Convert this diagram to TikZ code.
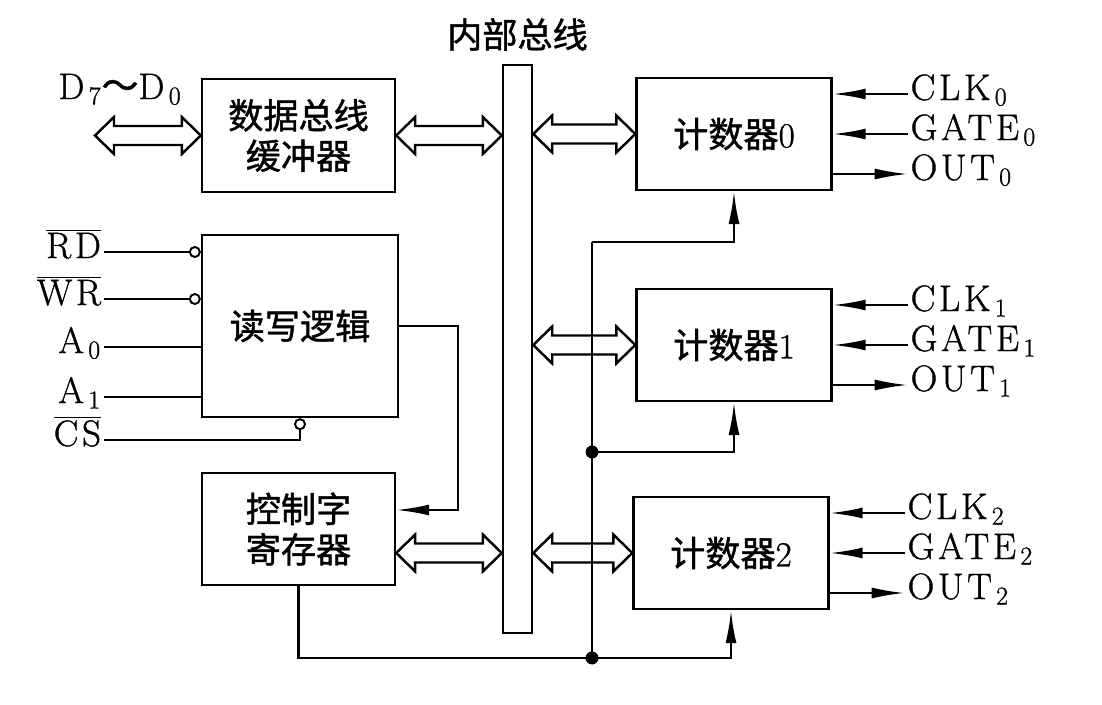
\documentclass[tikz,border=0pt]{standalone}
\usepackage{fontspec}
\newfontfamily\cjk{Noto Sans CJK SC}[FakeBold=1.2]
\newfontfamily\sigfont{Latin Modern Roman}[LetterSpace=10, FakeBold=1]
\usetikzlibrary{
arrows.meta,
calc,
positioning
}

\begin{document}
\begin{tikzpicture}
[x=0.02cm, y=-0.02cm, line width=1.4pt,
block/.style ={ rectangle, draw, fill=white, align=center, font=\cjk\fontsize{20}{23}\selectfont, minimum width=3.86cm, minimum height=2.25cm, inner sep=0pt},
counter/.style ={ block, minimum width=3.9cm, minimum height=2.24cm},
busbar/.style ={ rectangle, draw, fill=white, minimum width=0.58cm, minimum height=11.36cm, inner sep=0pt},
bubble/.style ={ circle, draw, fill=white, inner sep=0pt, minimum size=0.2cm, line width=1.1pt},
sig/.style ={ anchor=west, inner sep=1pt, text height=1.6ex, text depth=0pt, font=\sigfont\fontsize{21}{24}\selectfont},
pinlabel/.style ={ sig, anchor=east},
sigarrow/.style ={draw, -{Latex[length=0.66cm, width=0.22cm]}},
busarrow/.style ={draw, fill=white, line join=miter, to path={
  (\tikztostart) -- ($(\tikztostart)+(0.38cm,0.37cm)$) -- ($(\tikztostart)+(0.38cm,0.19cm)$)
  -- ($(\tikztotarget)+(-0.38cm,0.19cm)$) -- ($(\tikztotarget)+(-0.38cm,0.37cm)$)
  -- (\tikztotarget) -- ($(\tikztotarget)+(-0.38cm,-0.37cm)$) -- ($(\tikztotarget)+(-0.38cm,-0.19cm)$)
  -- ($(\tikztostart)+(0.38cm,-0.19cm)$) -- ($(\tikztostart)+(0.38cm,-0.37cm)$) -- cycle}}
]
\useasboundingbox (0,0) rectangle (1102,705);

%%% Bausteine %%%
\node [block] (buf) at (298.5,135.5) {数据总线\\缓冲器};
\node [block, minimum width=3.92cm, minimum height=3.64cm] (rw) at (300,326) {读写逻辑};
\node [block] (reg) at (298.5,529) {控制字\\寄存器};
\node [busbar] (bus) at (517.5,349) {};
\node [font=\cjk\fontsize{20}{23}\selectfont, above=0.12cm of bus] (buslbl) {内部总线};

\node [counter] (c0) at (734,134) {计数器{\sigfont 0}};
\node [counter] (c1) at (734,345) {计数器{\sigfont 1}};
\node [counter] (c2) at (731,553) {计数器{\sigfont 2}};

%%% Datenbus %%%
\node [sig, anchor=center] (dlbl) at (120,93) {D\textsubscript{\,7}{\cjk ～}D\textsubscript{\,0}};
\coordinate (dext) at (95,135.5);
\draw[busarrow] (dext) to (buf.west);
\draw[busarrow] (buf.east) to (bus.west |- buf.east);
\draw[busarrow] (bus.east |- c0.west) to (c0.west);
\draw[busarrow] (bus.east |- c1.west) to (c1.west);
\draw[busarrow] (bus.east |- c2.west) to (c2.west);
\draw[busarrow] (reg.east |- c2.west) to (bus.west |- c2.west);

%%% Steuereingaenge %%%
\node [pinlabel] (rd) at (104,252) {$\overline{\hbox{RD}}$};
\node [pinlabel] (wr) at (104,299) {$\overline{\hbox{WR}}$};
\node [pinlabel] (a0) at (104,347) {A\textsubscript{\,0}};
\node [pinlabel] (a1) at (104,397) {A\textsubscript{\,1}};
\node [pinlabel] (cs) at (104,440) {$\overline{\hbox{CS}}$};
\node [bubble, anchor=east] (rdb) at (rw.west |- rd.east) {};
\node [bubble, anchor=east] (wrb) at (rw.west |- wr.east) {};
\node [bubble, anchor=north] (csb) at (rw.south) {};
\draw (rd.east) -- (rdb.west);
\draw (wr.east) -- (wrb.west);
\draw (a0.east) -- (a0.east -| rw.west);
\draw (a1.east) -- (a1.east -| rw.west);
\draw (cs.east) -| (csb.south);
\draw[sigarrow] (rw.east) -- ++(59,0) |- ([yshift=0.38cm]reg.east);

%%% Zaehler-Signale %%%
\foreach \i in {0,1,2}{
\node [sig] (clk\i) at ($(c\i.east)+(75,-40)$) {CLK\textsubscript{\,\i}};
\node [sig] (gate\i) at ($(c\i.east)+(75,0)$) {GATE\textsubscript{\,\i}};
\node [sig] (out\i) at ($(c\i.east)+(75,40)$) {OUT\textsubscript{\,\i}};
\draw[sigarrow] (clk\i.west) -- (clk\i.west -| c\i.east);
\draw[sigarrow] (gate\i.west) -- (gate\i.west -| c\i.east);
\draw[sigarrow] (out\i.west -| c\i.east) -- (out\i.west);
}

%%% Steuerwort-Leitung %%%
\coordinate (j0) at (592,242);
\coordinate (j1) at (592,452);
\coordinate (j2) at (592,658);
\draw (j2) -- (j0);
\draw[sigarrow] (j0) -| (c0.south);
\draw[sigarrow] (j1) -| (c1.south);
\draw[sigarrow] (reg.south) |- (j2) -| (c2.south);
\fill (j1) circle (0.13cm);
\fill (j2) circle (0.13cm);

\end{tikzpicture}
\end{document}
